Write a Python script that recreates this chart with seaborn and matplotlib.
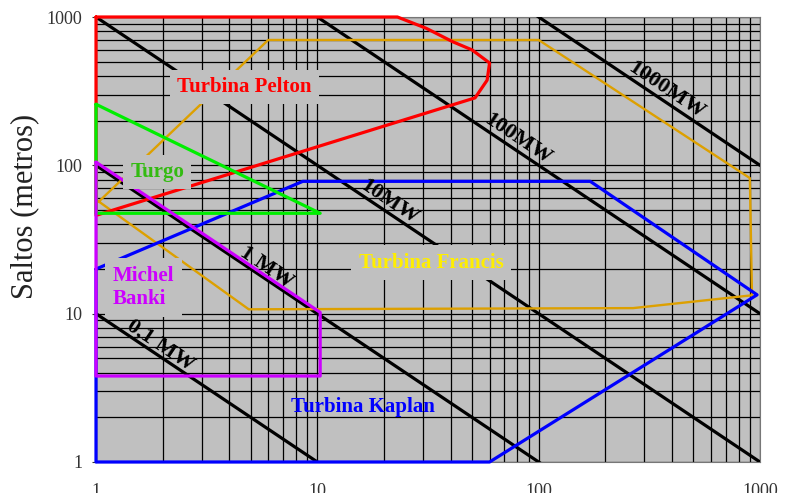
import numpy as np
import pandas as pd
import matplotlib
matplotlib.use("Agg")
import matplotlib.pyplot as plt
from matplotlib.ticker import LogLocator, NullFormatter
import seaborn as sns

# Application ranges of hydraulic turbines: flow Q (m3/s) vs head H (m)
pelton_q = [1, 23, 31, 41, 50, 60, 58.5, 51.6, 1, 1]
pelton_h = [1000, 1000, 840, 680, 600, 490, 375, 285, 46, 1000]
francis_q = [1.03, 6, 100, 900, 920, 267, 4.9, 1.03]
francis_h = [57, 700, 700, 82, 13.3, 10.9, 10.7, 57]
kaplan_q = [1, 8.6, 171, 970, 60, 1, 1]
kaplan_h = [20, 78, 78, 13.4, 1, 1, 20]
turgo_q = [1, 10.3, 1, 1]
turgo_h = [258, 47.5, 47.5, 258]
banki_q = [1, 10.3, 10.3, 1, 1]
banki_h = [105, 10.2, 3.8, 3.8, 105]

# Constant-power lines (P = 10 * Q * H kW)
power_mw = [0.1, 1, 10, 100, 1000]
power_labels = ["0,1 MW", "1 MW", "10MW", "100MW", "1000MW"]
power_label_q = [1.85, 5.6, 20, 76, 356]

# Region names
region_names = ["Turbina Pelton", "Turgo", "Michel\nBanki", "Turbina Francis", "Turbina Kaplan"]
region_q = [4.67, 1.89, 1.19, 32.6, 16.1]
region_h = [337, 90, 15, 22.1, 2.35]

ticks = [1, 10, 100, 1000]
tick_labels = ["1", "10", "100", "1000"]

sns.set_style("white")
plt.rcParams["font.family"] = ["Liberation Serif", "DejaVu Serif"]

BG = "#c0c0c0"
fig = plt.figure(figsize=(7.94, 4.93), dpi=100)
ax = fig.add_axes([96 / 794, 1 - 462 / 493, 664 / 794, 445 / 493])
ax.set_facecolor(BG)
ax.set_xscale("log")
ax.set_yscale("log")
ax.set_xlim(1, 1000)
ax.set_ylim(1, 1000)

# power lines
q_span = np.array([1.0, 1000.0])
for p in power_mw:
    h_span = 100.0 * p / q_span
    sns.lineplot(x=q_span, y=h_span, sort=False, estimator=None,
                 color="black", lw=2.3, ax=ax, zorder=3)

regions = [
    (francis_q, francis_h, "#dda000", 1.7),
    (pelton_q, pelton_h, "#ff0000", 2.3),
    (kaplan_q, kaplan_h, "#0000ff", 2.3),
    (turgo_q, turgo_h, "#00ee00", 2.3),
    (banki_q, banki_h, "#cc00ff", 2.3),
]
for q, h, c, w in regions:
    sns.lineplot(x=q, y=h, sort=False, estimator=None, color=c, lw=w,
                 ax=ax, zorder=4)
    ax.lines[-1].set_clip_on(False)

# rotated labels on the power lines
p1 = ax.transData.transform((1, 100))
p2 = ax.transData.transform((100, 1))
angle = np.degrees(np.arctan2(p2[1] - p1[1], p2[0] - p1[0]))
for p, lab, q in zip(power_mw, power_labels, power_label_q):
    ax.text(q, 100.0 * p / q, lab, rotation=angle, rotation_mode="anchor",
            ha="center", va="bottom", fontsize=16, fontweight="bold",
            color="black", zorder=5)

label_colors = ["#ff0000", "#33bb11", "#cc00ff", "#ffee00", "#0000ff"]
boxed = [True, True, True, True, False]
for name, q, h, c, b in zip(region_names, region_q, region_h, label_colors, boxed):
    kw = dict(ha="center", va="center", fontsize=15, fontweight="bold",
              color=c, zorder=6, linespacing=1.25)
    if name.startswith("Michel"):
        kw["ha"] = "left"
    if b:
        kw["bbox"] = dict(boxstyle="square,pad=0.35", fc=BG, ec="none")
    ax.text(q, h, name, **kw)

ax.set_xticks(ticks)
ax.set_xticklabels(tick_labels)
ax.set_yticks(ticks)
ax.set_yticklabels(tick_labels)
for axis in (ax.xaxis, ax.yaxis):
    axis.set_minor_locator(LogLocator(base=10, subs=np.arange(2, 10)))
    axis.set_minor_formatter(NullFormatter())
ax.grid(which="both", color="black", lw=0.9)
ax.set_axisbelow(True)

ax.tick_params(axis="x", which="both", length=0, pad=15, labelsize=13,
               labelcolor="#333333")
ax.tick_params(axis="y", which="major", length=3, width=0.8, pad=7,
               labelsize=13, labelcolor="#333333", color="#333333", left=True)
ax.tick_params(axis="y", which="minor", length=0)
ax.set_xlim(1, 1000)
ax.set_ylim(1, 1000)

ax.set_ylabel("Saltos (metros)", fontsize=22, color="#222222")
ax.yaxis.set_label_coords(-0.086, 0.575)

for s in ax.spines.values():
    s.set_color("#777777")
    s.set_linewidth(0.8)

fig.savefig("out.png", dpi=100, facecolor="white")
